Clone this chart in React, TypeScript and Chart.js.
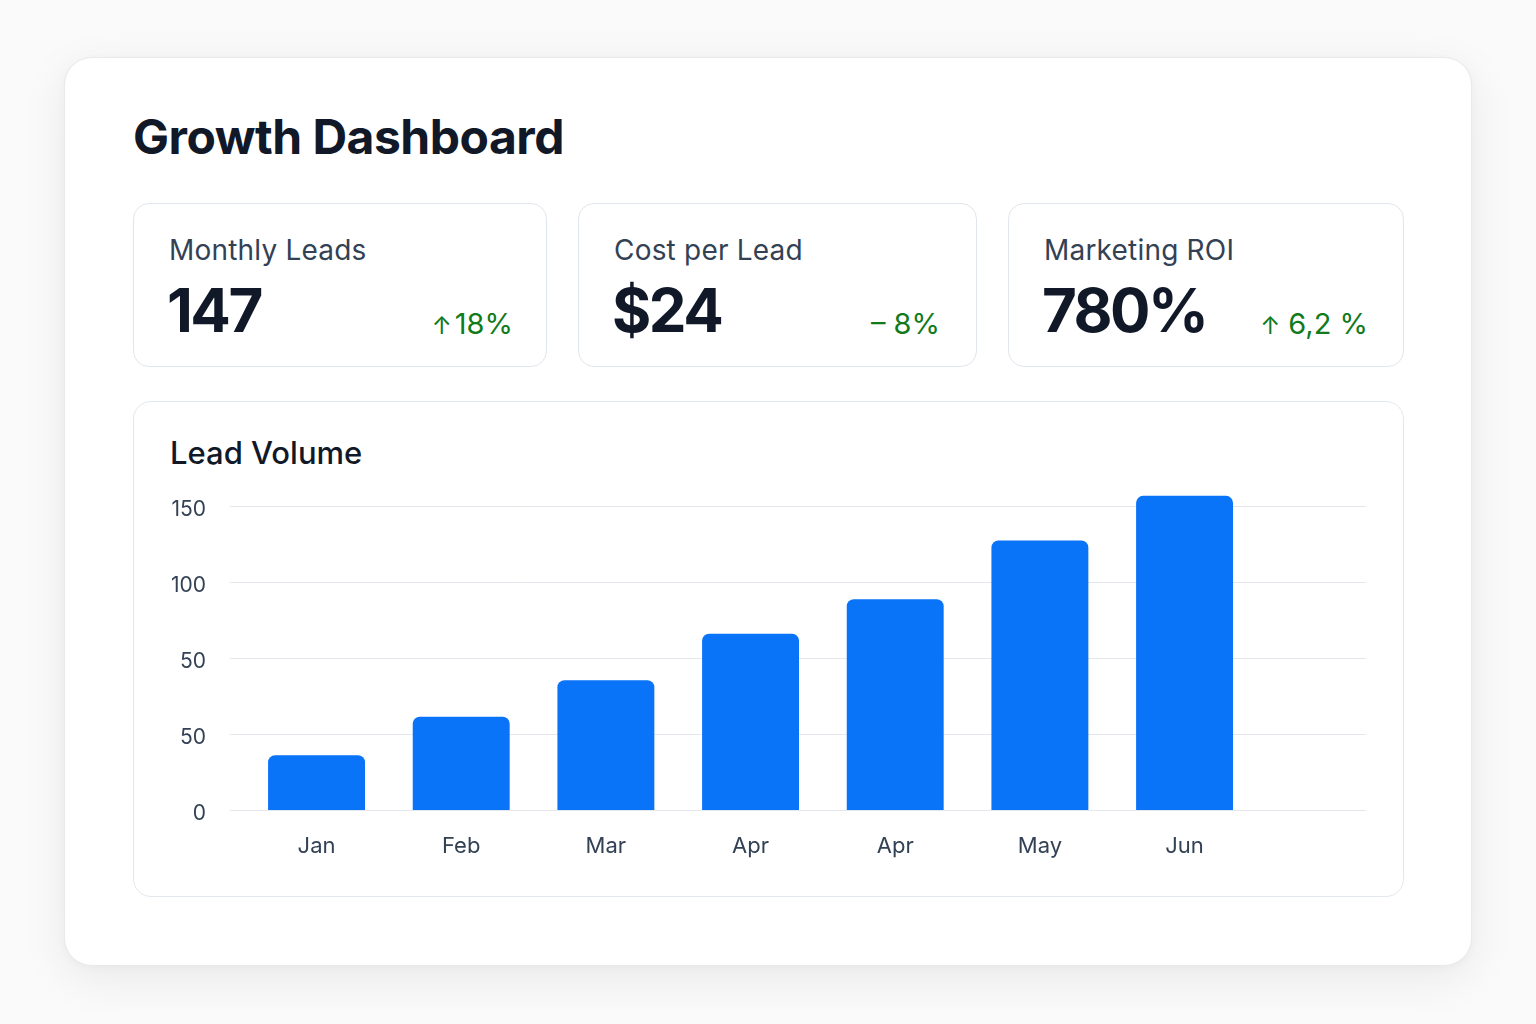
import React, { useEffect, useRef } from "react";
import { Chart, registerables } from "chart.js";

Chart.register(...registerables);

// ---- data ----
const MONTHS = ["Jan", "Feb", "Mar", "Apr", "Apr", "May", "Jun"];
const LEADS = [27, 46, 64, 87, 104, 133, 155];
const Y_TICK_VALUES = [0, 37.5, 75, 112.5, 150];
const Y_TICK_LABELS = ["0", "50", "50", "100", "150"];
const Y_MAX = 160;

const KPI_TITLES = ["Monthly Leads", "Cost per Lead", "Marketing ROI"];
const KPI_VALUES = ["147", "$24", "780%"];
const KPI_SYMBOLS = ["↑", "–", "↑"];
const KPI_CHANGES = ["18%", " 8%", " 6,2 %"];

// ---- styling ----
const FONT = "Inter, 'Noto Sans', sans-serif";
const BAR_COLOR = "#0a74f9";
const GRID_COLOR = "#e4e7eb";
const TICK_COLOR = "#334155";
const GREEN = "#117a1a";

const GRID_LEFT_EXT = 14;
const GRID_RIGHT_EXT = 109;

// horizontal guide lines that run a little past the plotted area on both sides
const extendedGrid = {
  id: "extendedGrid",
  beforeDatasetsDraw(chart: any) {
    const { ctx, chartArea, scales } = chart;
    const y = scales.y;
    ctx.save();
    ctx.strokeStyle = GRID_COLOR;
    ctx.lineWidth = 1;
    y.ticks.forEach((t: any) => {
      const py = Math.round(y.getPixelForValue(t.value)) + 0.5;
      ctx.beginPath();
      ctx.moveTo(chartArea.left - GRID_LEFT_EXT, py);
      ctx.lineTo(chartArea.right + GRID_RIGHT_EXT, py);
      ctx.stroke();
    });
    ctx.restore();
  },
};

function LeadChart() {
  const ref = useRef<HTMLCanvasElement | null>(null);

  useEffect(() => {
    if (!ref.current) return;
    const chart = new Chart(ref.current, {
      type: "bar",
      data: {
        labels: MONTHS,
        datasets: [
          {
            data: LEADS,
            backgroundColor: BAR_COLOR,
            borderWidth: 0,
            borderRadius: 7,
            borderSkipped: "bottom",
            barPercentage: 0.67,
            categoryPercentage: 1,
          },
        ],
      },
      options: {
        responsive: false,
        animation: false,
        events: [],
        layout: { padding: { top: 5.7, right: 143.1, left: 0, bottom: 0 } },
        plugins: { legend: { display: false }, tooltip: { enabled: false } },
        scales: {
          x: {
            grid: { display: false, drawTicks: false },
            border: { display: false },
            ticks: {
              color: TICK_COLOR,
              font: { family: FONT, size: 22 },
              padding: 23,
            },
            afterFit(s: any) {
              s.height = 70;
              s.paddingLeft = 0;
              s.paddingRight = 0;
            },
          },
          y: {
            min: 0,
            max: Y_MAX,
            afterBuildTicks(s: any) {
              s.ticks = Y_TICK_VALUES.map((v) => ({ value: v }));
            },
            grid: { display: false, drawTicks: false },
            border: { display: false },
            ticks: {
              color: TICK_COLOR,
              font: { family: FONT, size: 21 },
              padding: 38.2,
              labelOffset: 4,
              callback: (_v: any, i: number) => Y_TICK_LABELS[i],
            },
            afterFit(s: any) {
              s.width = 104.2;
              s.paddingTop = 0;
              s.paddingBottom = 0;
            },
          },
        },
      },
      plugins: [extendedGrid],
    } as any);
    return () => chart.destroy();
  }, []);

  return (
    <canvas
      ref={ref}
      width={1260}
      height={400}
      style={{ position: "absolute", left: 140, top: 480, width: 1260, height: 400 }}
    />
  );
}

const KPI_CARDS = [
  { left: 133, width: 414, right: 33 },
  { left: 578, width: 399, right: 36 },
  { left: 1008, width: 396, right: 35 },
];

export default function App() {
  return (
    <div
      style={{
        position: "absolute",
        left: 0,
        top: 0,
        width: 1536,
        height: 1024,
        background: "#fafafa",
        fontFamily: FONT,
        overflow: "hidden",
      }}
    >
      <div
        style={{
          position: "absolute",
          left: 64,
          top: 57,
          width: 1408,
          height: 909,
          boxSizing: "border-box",
          background: "#ffffff",
          borderRadius: 28,
          border: "1px solid #e9e9e9",
          boxShadow: "0 12px 48px rgba(0,0,0,0.07), 0 2px 8px rgba(0,0,0,0.03)",
        }}
      />
      <div
        style={{
          position: "absolute",
          left: 133,
          top: 112.6,
          fontSize: 48,
          lineHeight: "48px",
          fontWeight: 700,
          color: "#111827",
          whiteSpace: "nowrap",
          letterSpacing: "-0.5px",
        }}
      >
        Growth Dashboard
      </div>

      {KPI_CARDS.map((c, i) => (
        <div
          key={i}
          style={{
            position: "absolute",
            left: c.left,
            top: 203,
            width: c.width,
            height: 164,
            boxSizing: "border-box",
            border: "1.5px solid #e1e6ec",
            borderRadius: 16,
            background: "#ffffff",
          }}
        >
          <div
            style={{
              position: "absolute",
              left: 35,
              top: 32.3,
              fontSize: 28,
              lineHeight: "28px",
              color: "#334155",
              whiteSpace: "nowrap",
              letterSpacing: "0.2px",
            }}
          >
            {KPI_TITLES[i]}
          </div>
          <div
            style={{
              position: "absolute",
              left: 33,
              top: 76.2,
              fontSize: 60,
              lineHeight: "60px",
              fontWeight: 700,
              color: "#111827",
              whiteSpace: "nowrap",
              letterSpacing: "-2.5px",
            }}
          >
            {KPI_VALUES[i]}
          </div>
          <div
            style={{
              position: "absolute",
              right: c.right,
              top: 105,
              fontSize: 29,
              lineHeight: "29px",
              color: GREEN,
              whiteSpace: "pre",
            }}
          >
            <span style={{ fontSize: i === 1 ? 29 : 24, marginRight: i === 0 ? 3 : 0 }}>
              {KPI_SYMBOLS[i]}
            </span>
            {KPI_CHANGES[i]}
          </div>
        </div>
      ))}

      <div
        style={{
          position: "absolute",
          left: 133,
          top: 401,
          width: 1271,
          height: 496,
          boxSizing: "border-box",
          border: "1.5px solid #e3e8ee",
          borderRadius: 18,
          background: "#ffffff",
        }}
      />
      <div
        style={{
          position: "absolute",
          left: 170,
          top: 437.3,
          fontSize: 31,
          lineHeight: "31px",
          fontWeight: 500,
          color: "#111827",
          whiteSpace: "nowrap",
        }}
      >
        Lead Volume
      </div>
      <LeadChart />
    </div>
  );
}
